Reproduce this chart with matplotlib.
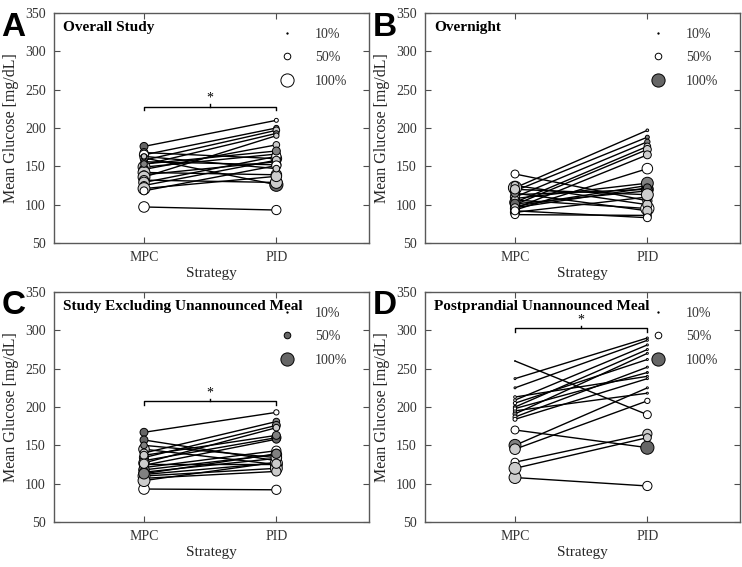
import numpy as np
import matplotlib.pyplot as plt
from matplotlib.lines import Line2D

plt.rcParams['font.family'] = ['Liberation Serif', 'DejaVu Serif']

# ---- data (mean glucose, mg/dL) ----
strategies = ["MPC", "PID"]
legend_pct = [10, 50, 100]

A_title = "Overall Study"
A_mpc = [97, 176, 168, 165, 161, 158, 156, 152, 149, 146, 142, 139, 136, 132, 129, 125, 121, 118, 153, 163]
A_pid = [93, 210, 160, 200, 126, 197, 152, 193, 166, 178, 139, 156, 190, 129, 163, 158, 137, 151, 170, 147]
A_mpc_pct = [80, 60, 60, 70, 60, 50, 40, 60, 90, 70, 90, 60, 90, 70, 80, 60, 90, 60, 50, 40]
A_pid_pct = [70, 30, 80, 40, 100, 50, 70, 40, 60, 50, 80, 60, 40, 90, 70, 60, 80, 70, 60, 50]
A_mpc_gray = [1, .4, .4, 1, .8, .5, .8, .8, .8, .5, .8, .8, .8, .8, .8, .8, .8, 1, .5, .8]
A_pid_gray = [1, 1, .5, .5, .4, .8, .8, .5, .8, .8, .8, .8, .8, .8, 1, .8, .8, 1, .5, .8]
A_leg_gray = [0, 1, 1]

B_title = "Overnight"
B_mpc = [140, 122, 118, 113, 110, 106, 103, 100, 98, 95, 93, 90, 87, 125, 108, 115, 101, 96, 120, 92]
B_pid = [105, 197, 188, 120, 182, 95, 176, 172, 125, 165, 147, 110, 86, 100, 128, 92, 118, 122, 113, 83]
B_mpc_pct = [60, 100, 70, 60, 70, 60, 80, 70, 60, 70, 60, 70, 60, 60, 50, 60, 70, 60, 70, 60]
B_pid_pct = [70, 20, 30, 90, 40, 100, 50, 60, 80, 60, 80, 70, 60, 70, 90, 70, 80, 60, 90, 60]
B_mpc_gray = [1, .8, .5, .8, .8, .4, .4, .8, .5, .8, 1, .8, 1, .8, .8, .5, .4, .8, .8, 1]
B_pid_gray = [.8, .8, .5, .5, .5, 1, .8, .8, .4, .8, 1, .8, 1, .8, .5, .8, .5, .4, .8, 1]
B_leg_gray = [0, 1, .4]

C_title = "Study Excluding Unannounced Meal"
C_mpc = [93, 167, 157, 145, 140, 134, 130, 127, 124, 121, 118, 115, 112, 110, 107, 104, 150, 137, 126, 113]
C_pid = [92, 193, 130, 125, 181, 176, 160, 173, 158, 143, 138, 133, 127, 120, 116, 128, 134, 163, 126, 139]
C_mpc_pct = [80, 60, 60, 80, 60, 70, 60, 80, 70, 60, 80, 70, 80, 90, 70, 90, 50, 60, 70, 80]
C_pid_pct = [70, 40, 70, 90, 50, 60, 70, 50, 60, 70, 80, 70, 90, 90, 70, 60, 80, 60, 70, 70]
C_mpc_gray = [1, .4, .4, .8, .8, 1, .8, .8, .8, .8, .5, .8, .8, 1, 1, .8, .5, .8, .8, .5]
C_pid_gray = [1, 1, .8, .8, .5, .5, .4, .8, .4, 1, 1, .8, 1, .8, .8, .8, .8, .5, .8, .5]
C_leg_gray = [0, .4, .4]

D_title = "Postprandial Unannounced Meal"
D_mpc = [108, 260, 237, 225, 213, 209, 205, 200, 195, 191, 187, 184, 170, 150, 145, 128, 120, 198]
D_pid = [97, 190, 290, 287, 240, 281, 262, 275, 218, 270, 252, 237, 147, 225, 208, 165, 160, 245]
D_mpc_pct = [90, 5, 15, 15, 20, 20, 25, 25, 25, 30, 30, 30, 60, 90, 80, 60, 90, 25]
D_pid_pct = [70, 60, 15, 15, 15, 15, 15, 15, 15, 15, 15, 15, 100, 15, 40, 70, 60, 15]
D_mpc_gray = [.8, 1, 1, 1, 1, 1, 1, .5, 1, .5, 1, 1, 1, .5, .8, 1, .8, 1]
D_pid_gray = [1, 1, 1, 1, 1, 1, 1, 1, 1, 1, 1, 1, .4, 1, 1, .8, .8, .5]
D_leg_gray = [0, 1, .4]

panels = [
    ("A", A_title, A_mpc, A_pid, A_mpc_pct, A_pid_pct, A_mpc_gray, A_pid_gray, A_leg_gray, 228),
    ("B", B_title, B_mpc, B_pid, B_mpc_pct, B_pid_pct, B_mpc_gray, B_pid_gray, B_leg_gray, None),
    ("C", C_title, C_mpc, C_pid, C_mpc_pct, C_pid_pct, C_mpc_gray, C_pid_gray, C_leg_gray, 208),
    ("D", D_title, D_mpc, D_pid, D_mpc_pct, D_pid_pct, D_mpc_gray, D_pid_gray, D_leg_gray, 303),
]

W, H = 742, 567
boxes = {"A": (54, 13), "B": (425, 13), "C": (54, 292), "D": (425, 292)}
aw, ah = 315, 230

def msize(pct):
    # marker diameter in points, linear in percentage
    return 9.5 * pct / 100.0

fig = plt.figure(figsize=(W / 100, H / 100), dpi=100)

for letter, title, mpc, pid, mpct, ppct, mgray, pgray, leggray, sig in panels:
    x0, y0 = boxes[letter]
    ax = fig.add_axes([x0 / W, 1 - (y0 + ah) / H, aw / W, ah / H])
    for i in range(len(mpc)):
        ax.plot([1, 2], [mpc[i], pid[i]], color="black", lw=1.0, zorder=2)
    ax.scatter(np.ones(len(mpc)), mpc, s=[msize(p) ** 2 for p in mpct],
               c=[str(g) for g in mgray], edgecolors="black", linewidths=0.7, zorder=3)
    ax.scatter(np.full(len(pid), 2), pid, s=[msize(p) ** 2 for p in ppct],
               c=[str(g) for g in pgray], edgecolors="black", linewidths=0.7, zorder=3)

    if sig is not None:
        ax.plot([1, 1, 2, 2], [sig - 5, sig, sig, sig - 5], color="black", lw=1.0)
        ax.plot([1.5, 1.5], [sig, sig + 3], color="black", lw=1.0)
        ax.text(1.5, sig + 2, "*", ha="center", va="bottom", fontsize=10)

    ax.set_xlim(0.32, 2.7)
    ax.set_ylim(50, 350)
    ax.set_yticks(np.arange(50, 351, 50))
    ax.set_xticks([1, 2])
    ax.set_xticklabels(strategies)
    ax.tick_params(direction="in", top=True, right=True, length=4, width=0.8,
                   labelsize=10, color="0.3", labelcolor="0.2", pad=6)
    for sp in ax.spines.values():
        sp.set_color("0.35")
        sp.set_linewidth(1.0)
    ax.set_xlabel("Strategy", fontsize=11, labelpad=2, color="0.15")
    ax.set_ylabel("Mean Glucose [mg/dL]", fontsize=11.5, labelpad=4, color="0.15")
    ax.text(0.03, 0.965, title, transform=ax.transAxes, fontsize=11,
            fontweight="bold", ha="left", va="top")

    handles = [Line2D([], [], ls="none", marker="o", markersize=msize(p),
                      markerfacecolor=str(g), markeredgecolor="black",
                      markeredgewidth=0.7) for p, g in zip(legend_pct, leggray)]
    ax.legend(handles, [f"{p}%" for p in legend_pct], loc="upper right",
              bbox_to_anchor=(0.97, 0.99), frameon=False, fontsize=10,
              labelspacing=0.75, handletextpad=1.0, borderpad=0.4,
              labelcolor="0.2")

    fig.text((x0 - 54) / W + 0.002, 1 - (y0 + 14) / H, letter, fontsize=24,
             fontweight="bold", family="Liberation Sans", ha="left", va="center")

fig.savefig("out.png", dpi=100)
